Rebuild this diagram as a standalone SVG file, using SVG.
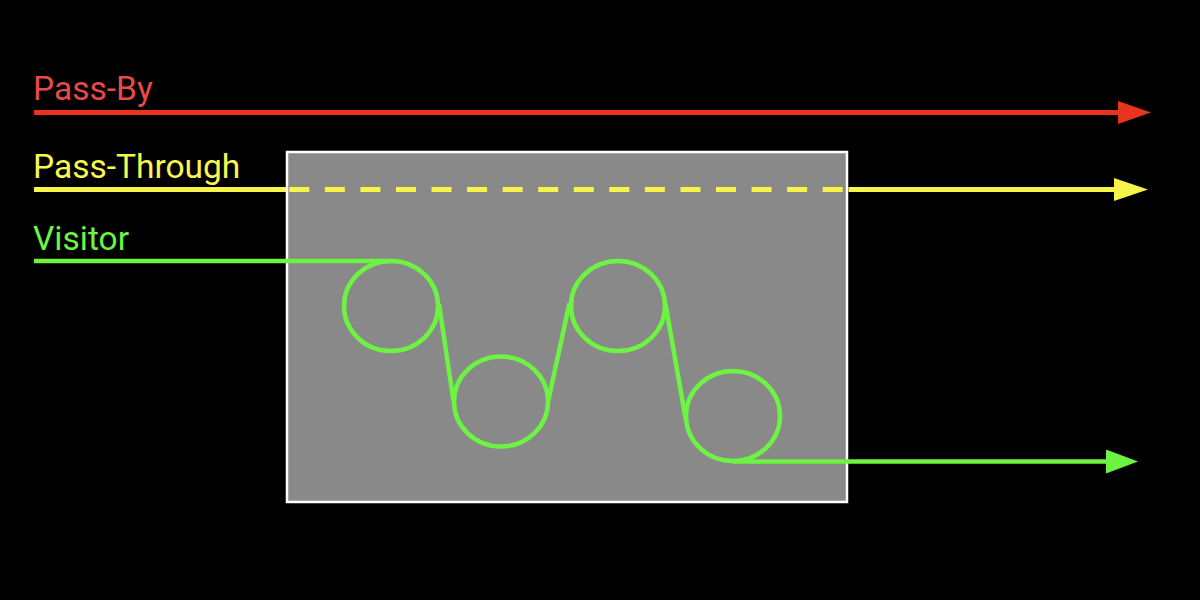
<svg xmlns="http://www.w3.org/2000/svg" width="1200" height="600" viewBox="0 0 1200 600">
<style>
.lbl{font-family:Roboto,"Liberation Sans",sans-serif;font-size:33.5px}
.red{stroke:#e8331f;stroke-width:5;fill:none}
.yel{stroke:#f8f54a;stroke-width:5;fill:none}
.grn{stroke:#6df442;stroke-width:4.5;fill:none}
</style>
<defs>
<marker id="ar" markerUnits="userSpaceOnUse" markerWidth="34" markerHeight="24" refX="0" refY="11.5" orient="auto"><path d="M0,0 L33,11.5 L0,23 z" fill="#e8331f"/></marker>
<marker id="ay" markerUnits="userSpaceOnUse" markerWidth="35" markerHeight="24" refX="0" refY="11.5" orient="auto"><path d="M0,0 L34,11.5 L0,23 z" fill="#f8f54a"/></marker>
<marker id="ag" markerUnits="userSpaceOnUse" markerWidth="33" markerHeight="25" refX="0" refY="12" orient="auto"><path d="M0,0 L32,12 L0,24 z" fill="#6df442"/></marker>
</defs>
<rect width="1200" height="600" fill="#000"/>
<g id="labels">
<text class="lbl" x="33" y="100" fill="#e84a4a">Pass-By</text>
<text class="lbl" x="33" y="178" fill="#f9f750">Pass-Through</text>
<text class="lbl" x="33" y="250" fill="#6df442">Visitor</text>
</g>
<g id="yellow-in">
<line class="yel" x1="34" y1="189.5" x2="288" y2="189.5"/>
</g>
<g id="building">
<rect x="287" y="152" width="560" height="350" fill="#898989" stroke="#fff" stroke-width="2.5"/>
</g>
<g id="connectors">
<line class="red" x1="34" y1="112.5" x2="1118" y2="112.5" marker-end="url(#ar)"/>
<line class="yel" x1="289.3" y1="189.5" x2="843" y2="189.5" stroke-dasharray="20 15.56"/>
<line class="yel" x1="848.5" y1="189.5" x2="1114" y2="189.5" marker-end="url(#ay)"/>
<g id="visitor-path">
<line class="grn" x1="34" y1="261" x2="391" y2="261"/>
<ellipse class="grn" cx="391" cy="306" rx="47" ry="45"/>
<line class="grn" x1="439" y1="304" x2="453.5" y2="401"/>
<ellipse class="grn" cx="501" cy="401.5" rx="47" ry="45"/>
<line class="grn" x1="548" y1="402" x2="569.5" y2="303"/>
<ellipse class="grn" cx="618" cy="306" rx="47" ry="45"/>
<line class="grn" x1="665.5" y1="304" x2="685.5" y2="418"/>
<ellipse class="grn" cx="733" cy="416" rx="47" ry="45"/>
<line class="grn" x1="733" y1="461.5" x2="1106" y2="461.5" marker-end="url(#ag)"/>
</g>
</g>
</svg>
